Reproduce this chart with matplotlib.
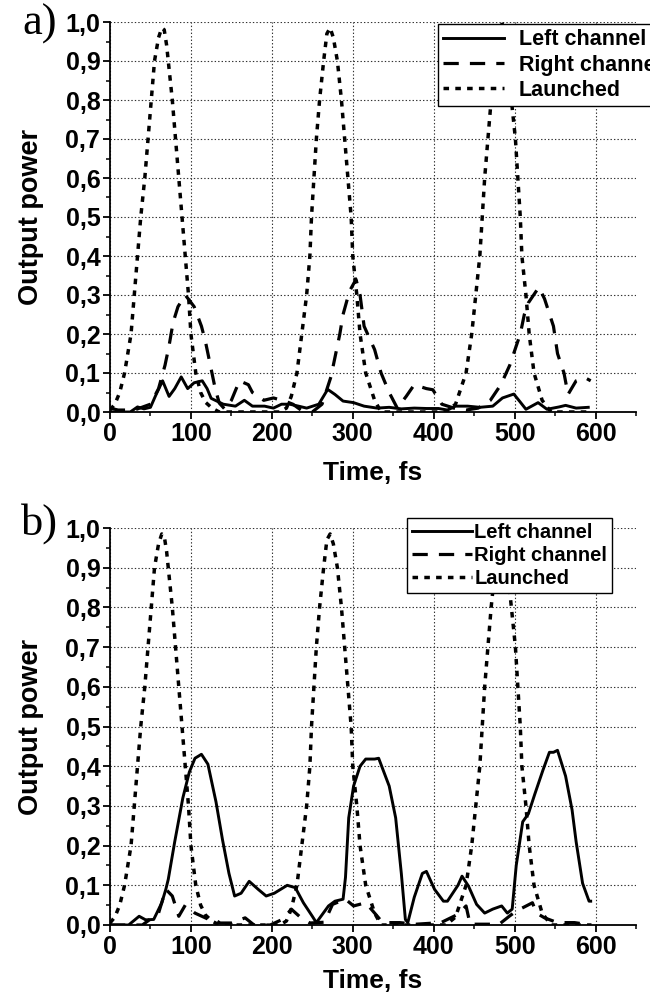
import numpy as np
import matplotlib
matplotlib.use("Agg")
import matplotlib.pyplot as plt
from matplotlib.ticker import MultipleLocator, FuncFormatter

plt.rcParams['font.family'] = ['Liberation Sans', 'DejaVu Sans']
plt.rcParams['font.weight'] = 'bold'
plt.rcParams['lines.scale_dashes'] = False

# launched pulse train (same input for both panels)
t_launch = [0, 6, 12, 18, 22, 26, 30, 34, 38, 43, 47, 51, 55, 60, 64, 67, 70, 72, 77, 81,
            85, 89, 93, 97, 100, 106, 112, 118, 126, 135, 160, 190, 210, 218, 224, 231, 237,
            243, 247, 249, 252, 255, 259, 264, 268, 272, 276, 281, 286, 290, 294, 298, 300,
            305, 309, 316, 327, 335, 360, 390, 415, 427, 440, 447, 452, 457, 460, 463, 467,
            471, 476, 480, 484, 488, 491, 496, 501, 504, 507, 509, 514, 518, 524, 534, 545,
            570, 595]
p_launch = [0.005, 0.02, 0.05, 0.1, 0.15, 0.2, 0.3, 0.4, 0.5, 0.6, 0.7, 0.8, 0.9, 0.96, 0.985,
            0.98, 0.94, 0.9, 0.8, 0.7, 0.6, 0.5, 0.4, 0.3, 0.2, 0.1, 0.05, 0.025, 0.01, 0.0,
            0.0, 0.0, 0.0, 0.01, 0.04, 0.1, 0.2, 0.3, 0.4, 0.5, 0.6, 0.7, 0.8, 0.9, 0.97, 0.985,
            0.96, 0.9, 0.8, 0.7, 0.6, 0.5, 0.4, 0.3, 0.2, 0.1, 0.03, 0.0, 0.0, 0.0, 0.0, 0.02,
            0.1, 0.2, 0.3, 0.4, 0.5, 0.6, 0.7, 0.8, 0.9, 0.97, 1.0, 0.97, 0.9, 0.8, 0.7, 0.6,
            0.5, 0.4, 0.3, 0.2, 0.1, 0.03, 0.0, 0.0, 0.0]

# panel a
t_left_a = [0, 25, 34, 42, 50, 57, 65, 73, 80, 88, 96, 104, 114, 120, 125, 140, 155, 166, 176,
            191, 202, 212, 222, 233, 243, 258, 269, 278, 288, 301, 314, 330, 345, 360, 376, 391,
            406, 417, 427, 442, 457, 473, 485, 499, 506, 514, 529, 540, 555, 563, 576, 591]
p_left_a = [0.0, 0.0, 0.013, 0.008, 0.012, 0.045, 0.08, 0.04, 0.06, 0.09, 0.06, 0.075, 0.08,
            0.06, 0.035, 0.02, 0.015, 0.03, 0.015, 0.015, 0.01, 0.02, 0.02, 0.015, 0.01, 0.02,
            0.058, 0.045, 0.028, 0.024, 0.015, 0.01, 0.012, 0.008, 0.01, 0.009, 0.009, 0.005,
            0.015, 0.015, 0.012, 0.015, 0.036, 0.046, 0.028, 0.007, 0.024, 0.007, 0.013, 0.017,
            0.01, 0.012]

t_right_a = [0, 10, 30, 50, 60, 68, 73, 78, 84, 93, 104, 113, 118, 122, 126, 130, 135, 142,
             150, 160, 171, 176, 190, 202, 216, 226, 236, 250, 262, 273, 284, 288, 296, 304,
             309, 314, 327, 335, 345, 355, 366, 376, 391, 399, 410, 425, 440, 455, 470, 483,
             494, 507, 512, 517, 530, 537, 548, 553, 561, 566, 576, 587, 594]
p_right_a = [0.01, 0.005, 0.005, 0.02, 0.06, 0.12, 0.17, 0.23, 0.27, 0.3, 0.27, 0.22, 0.18,
             0.14, 0.1, 0.06, 0.023, 0.007, 0.03, 0.08, 0.07, 0.05, 0.03, 0.036, 0.028, 0.02,
             0.005, 0.0, 0.02, 0.09, 0.2, 0.25, 0.31, 0.34, 0.3, 0.22, 0.16, 0.1, 0.05, 0.01,
             0.04, 0.07, 0.06, 0.057, 0.02, 0.01, 0.005, 0.01, 0.03, 0.07, 0.12, 0.2, 0.25,
             0.28, 0.32, 0.29, 0.22, 0.15, 0.1, 0.045, 0.08, 0.088, 0.08]

# panel b
t_left_b = [0, 23, 36, 44, 54, 64, 69, 72, 80, 90, 98, 105, 113, 121, 131, 139, 147, 154, 162,
            172, 183, 193, 203, 219, 229, 239, 250, 255, 270, 278, 288, 291, 295, 301, 309, 316,
            327, 332, 345, 353, 360, 365, 368, 376, 386, 391, 401, 412, 417, 430, 435, 443, 453,
            463, 473, 484, 491, 497, 502, 510, 517, 525, 535, 543, 548, 553, 563, 571, 576, 584,
            592, 594]
p_left_b = [0.0, 0.0, 0.022, 0.013, 0.014, 0.056, 0.09, 0.115, 0.21, 0.32, 0.385, 0.42, 0.43,
            0.405, 0.31, 0.215, 0.13, 0.073, 0.08, 0.11, 0.09, 0.073, 0.08, 0.1, 0.094, 0.056,
            0.022, 0.006, 0.048, 0.06, 0.065, 0.12, 0.27, 0.35, 0.4, 0.418, 0.418, 0.42, 0.35,
            0.27, 0.13, 0.014, 0.006, 0.07, 0.13, 0.135, 0.09, 0.06, 0.06, 0.1, 0.123, 0.098,
            0.052, 0.03, 0.04, 0.048, 0.03, 0.04, 0.15, 0.26, 0.28, 0.33, 0.39, 0.435, 0.435,
            0.44, 0.375, 0.29, 0.21, 0.105, 0.06, 0.06]

t_right_b = [0, 40, 60, 69, 77, 85, 93, 105, 121, 126, 136, 150, 167, 178, 198, 214, 224, 235,
             247, 265, 275, 291, 301, 316, 327, 337, 358, 378, 409, 430, 440, 445, 481, 494, 502,
             522, 527, 537, 553, 574, 594]
p_right_b = [0.0, 0.0, 0.03, 0.09, 0.073, 0.022, 0.05, 0.03, 0.015, 0.018, 0.005, 0.005, 0.018,
             0.0, 0.0, 0.015, 0.04, 0.02, 0.005, 0.007, 0.052, 0.065, 0.048, 0.056, 0.03, 0.006,
             0.006, 0.002, 0.006, 0.027, 0.048, 0.002, 0.002, 0.023, 0.035, 0.056, 0.03, 0.018,
             0.006, 0.006, 0.0]

labels = ['Left channel', 'Right channel', 'Launched']

W, H = 650, 993
fig = plt.figure(figsize=(W / 100, H / 100), dpi=100)


def setup_axes(ax, xlab_y):
    ax.set_xlim(0, 650)
    ax.set_ylim(0, 1.0)
    ax.xaxis.set_major_locator(MultipleLocator(100))
    ax.xaxis.set_minor_locator(MultipleLocator(50))
    ax.yaxis.set_major_locator(MultipleLocator(0.1))
    ax.yaxis.set_minor_locator(MultipleLocator(0.05))
    ax.yaxis.set_major_formatter(FuncFormatter(lambda v, p: f"{v:.1f}".replace('.', ',')))
    ax.xaxis.set_major_formatter(FuncFormatter(lambda v, p: f"{v:.0f}"))
    for s in ['top', 'right']:
        ax.spines[s].set_visible(False)
    for s in ['left', 'bottom']:
        ax.spines[s].set_linewidth(1.3)
    ax.tick_params(which='major', direction='out', length=5, width=1.3, labelsize=18, pad=2)
    ax.tick_params(which='minor', direction='out', length=3, width=1.1)
    ax.grid(True, which='major', color='#333333', linestyle=(0, (1, 1.5)), linewidth=0.8)
    ax.set_axisbelow(True)
    ax.set_xlabel('Time, fs', fontsize=19, fontweight='bold')
    ax.set_ylabel('Output power', fontsize=19.5, fontweight='bold')
    ax.xaxis.set_label_coords(0.5, xlab_y)
    ax.yaxis.set_label_coords(-0.125, 0.5)


def draw(ax, tl, pl, tr, pr):
    l1, = ax.plot(tl, pl, color='black', lw=2.1, label=labels[0])
    l2, = ax.plot(tr, pr, color='black', lw=2.3, dashes=(11, 8), label=labels[1])
    l3, = ax.plot(t_launch, p_launch, color='black', lw=2.5, dashes=(4, 4.5), label=labels[2])
    return [l1, l2, l3]


# panel a
ax1 = fig.add_axes([110 / W, 1 - 412 / H, 526 / W, 390 / H])
setup_axes(ax1, -0.125)
h = draw(ax1, t_left_a, p_left_a, t_right_a, p_right_a)
leg = ax1.legend(h, labels, loc='upper left', bbox_to_anchor=(438 / W, 1 - 24 / H),
                 bbox_transform=fig.transFigure, prop={'size': 15.5, 'weight': 'bold'},
                 frameon=True, fancybox=False, framealpha=1, edgecolor='black',
                 handlelength=2.8, handletextpad=0.7, borderpad=0.25, labelspacing=0.2,
                 borderaxespad=0)
leg.get_frame().set_linewidth(1.0)
leg.set_zorder(5)
fig.text(40 / W, 1 - 24 / H, 'a)', fontsize=32, family='Liberation Serif', fontweight='normal',
         ha='center', va='center')

# panel b
ax2 = fig.add_axes([110 / W, 1 - 925 / H, 526 / W, 397 / H])
setup_axes(ax2, -0.11)
h = draw(ax2, t_left_b, p_left_b, t_right_b, p_right_b)
leg = ax2.legend(h, labels, loc='upper left', bbox_to_anchor=(407 / W, 1 - 518 / H),
                 bbox_transform=fig.transFigure, prop={'size': 14.5, 'weight': 'bold'},
                 frameon=True, fancybox=False, framealpha=1, edgecolor='black',
                 handlelength=3.0, handletextpad=0.1, borderpad=0.25, labelspacing=0.2,
                 borderaxespad=0)
leg.get_frame().set_linewidth(1.0)
leg.set_zorder(5)
fig.text(40 / W, 1 - 524 / H, 'b)', fontsize=32, family='Liberation Serif', fontweight='normal',
         ha='center', va='center')

fig.savefig('out.png', dpi=100)
